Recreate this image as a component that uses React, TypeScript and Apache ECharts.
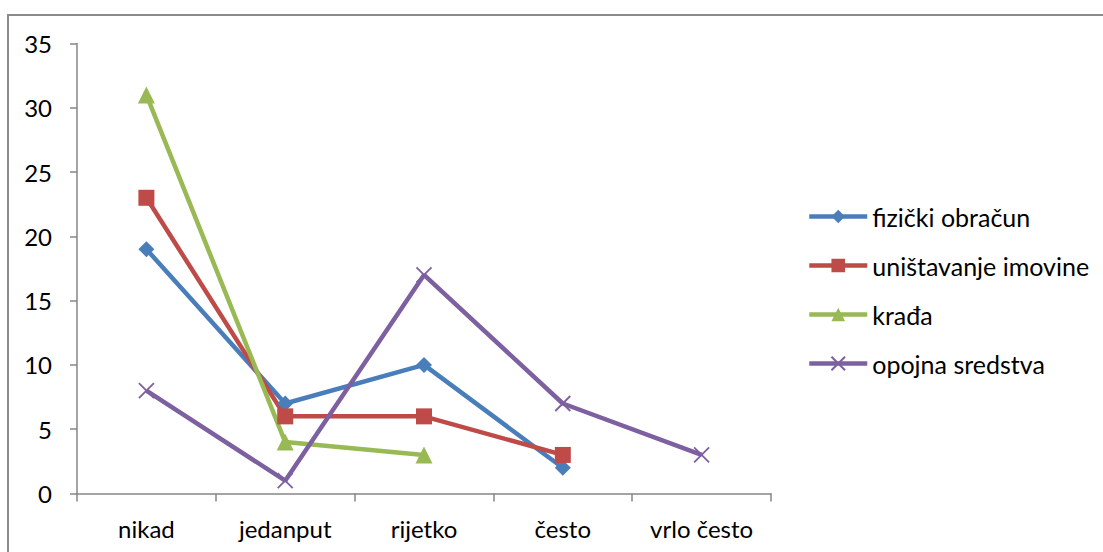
import React, { useEffect, useRef } from "react";
import * as echarts from "echarts";

const categories = ["nikad", "jedanput", "rijetko", "često", "vrlo često"];
const fizickiObracun = [19, 7, 10, 2, null];
const unistavanjeImovine = [23, 6, 6, 3, null];
const kradja = [31, 4, 3, null, null];
const opojnaSredstva = [8, 1, 17, 7, 3];
const seriesNames = ["fizički obračun", "uništavanje imovine", "krađa", "opojna sredstva"];

const FONT = "Lato";

export default function App() {
  const ref = useRef<HTMLDivElement>(null);
  useEffect(() => {
    const chart = echarts.init(ref.current!, null, { renderer: "svg" });
    const mk = (name: string, data: any[], color: string, symbol: string, size: number, extra: any = {}) => ({
      name,
      type: "line",
      data,
      symbol,
      symbolSize: size,
      showAllSymbol: true,
      connectNulls: false,
      lineStyle: { color, width: 4.5 },
      itemStyle: { color, ...extra },
    });
    chart.setOption({
      animation: false,
      backgroundColor: "#ffffff",
      textStyle: { fontFamily: FONT },
      grid: { left: 77, top: 43.5, width: 694, height: 450 },
      graphic: [
        {
          type: "rect",
          shape: { x: 8, y: 15, width: 1200, height: 700 },
          style: { fill: "none", stroke: "#8a8a8a", lineWidth: 2 },
          silent: true,
        },
      ],
      legend: {
        orient: "vertical",
        left: 802,
        top: 199,
        itemWidth: 58,
        itemHeight: 17,
        itemGap: 24,
        data: seriesNames,
        lineStyle: { width: 4.5 },
        textStyle: { fontFamily: FONT, fontSize: 25, color: "#000" },
      },
      xAxis: {
        type: "category",
        data: categories,
        boundaryGap: true,
        axisLine: { lineStyle: { color: "#868686", width: 1.5 } },
        axisTick: { show: true, interval: 0, length: 8, lineStyle: { color: "#868686", width: 1.5 } },
        axisLabel: { fontFamily: FONT, fontSize: 24, color: "#000", margin: 23, interval: 0 },
      },
      yAxis: {
        type: "value",
        min: 0,
        max: 35,
        interval: 5,
        splitLine: { show: false },
        axisLine: { show: true, lineStyle: { color: "#868686", width: 1.5 } },
        axisTick: { show: true, length: 7, lineStyle: { color: "#868686", width: 1.5 } },
        axisLabel: { fontFamily: FONT, fontSize: 24, color: "#000", margin: 25 },
      },
      series: [
        mk(seriesNames[0], fizickiObracun, "#4A7EBB", "diamond", 16),
        mk(seriesNames[1], unistavanjeImovine, "#BE4B48", "rect", 16),
        mk(seriesNames[2], kradja, "#98B954", "triangle", 17),
        mk(seriesNames[3], opojnaSredstva, "#7D60A0", "path://M0,0L10,10M10,0L0,10", 15, {
          borderColor: "#7D60A0",
          borderWidth: 1.8,
        }),
      ],
    });
    return () => chart.dispose();
  }, []);
  return (
    <div
      ref={ref}
      style={{ position: "fixed", left: 0, top: 0, width: 1103, height: 552 }}
    />
  );
}
